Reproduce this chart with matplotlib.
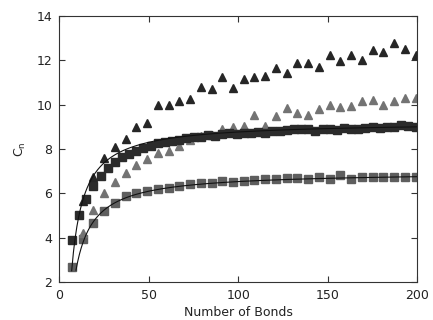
import matplotlib
matplotlib.use("Agg")
import matplotlib.pyplot as plt
import numpy as np

# dark triangles (x = 13..199 step 6)
tri_dark_x = list(range(13, 200, 6))
tri_dark_y = [5.65, 6.72, 7.58, 8.10, 8.44, 9.00, 9.16, 9.97, 10.00, 10.16,
              10.24, 10.78, 10.70, 11.23, 10.74, 11.14, 11.23, 11.29, 11.65,
              11.44, 11.86, 11.90, 11.71, 12.23, 11.98, 12.23, 12.01, 12.46,
              12.37, 12.79, 12.52, 12.23]

# gray triangles (x = 13..199 step 6)
tri_gray_x = list(range(13, 200, 6))
tri_gray_y = [4.20, 5.25, 6.00, 6.50, 6.90, 7.28, 7.53, 7.83, 7.93, 8.12,
              8.42, 8.60, 8.64, 8.89, 9.00, 9.04, 9.54, 9.04, 9.49, 9.87,
              9.61, 9.52, 9.79, 9.97, 9.91, 9.94, 10.16, 10.20, 9.98, 10.16,
              10.29, 10.29]

# dark squares (x = 7..199 step 4)
sq_dark_x = list(range(7, 200, 4))
sq_dark_y = [3.90, 5.00, 5.75, 6.33, 6.78, 7.13, 7.43, 7.62, 7.76, 7.91,
             8.06, 8.13, 8.26, 8.30, 8.36, 8.40, 8.48, 8.52, 8.55, 8.62,
             8.60, 8.68, 8.70, 8.66, 8.72, 8.70, 8.76, 8.74, 8.80, 8.82,
             8.86, 8.88, 8.92, 8.90, 8.82, 8.88, 8.92, 8.86, 8.94, 8.90,
             8.92, 8.96, 8.98, 8.96, 8.98, 9.00, 9.06, 9.04, 9.00]

# gray squares (x = 7..199 step 6)
sq_gray_x = list(range(7, 200, 6))
sq_gray_y = [2.69, 3.95, 4.68, 5.22, 5.58, 5.88, 6.00, 6.12, 6.20, 6.25,
             6.33, 6.40, 6.45, 6.45, 6.55, 6.50, 6.55, 6.60, 6.66, 6.66,
             6.70, 6.70, 6.66, 6.75, 6.66, 6.83, 6.63, 6.75, 6.75, 6.75,
             6.75, 6.75, 6.72]

# fitted curves: C = A - B / (n + c), drawn from n0
fit_dark = (9.23, 46.4, 0.0, 6.9)
fit_gray = (6.97, 44.4, 0.7, 9.3)

plt.rcParams['font.family'] = 'DejaVu Sans'
plt.rcParams['font.size'] = 9

fig = plt.figure(figsize=(4.33, 3.2), dpi=100)
ax = fig.add_axes([0.137, 0.119, 0.827, 0.831])

ax.plot(sq_gray_x, sq_gray_y, 's', color='#5e5e5e', ms=5.2, mec='#5e5e5e')
ax.plot(tri_gray_x, tri_gray_y, '^', color='#737373', ms=6, mec='#737373')
ax.plot(sq_dark_x, sq_dark_y, 's', color='#2b2b2b', ms=5.2, mec='#2b2b2b')
ax.plot(tri_dark_x, tri_dark_y, '^', color='#262626', ms=6, mec='#262626')

for a, b, c, n0 in (fit_dark, fit_gray):
    n = np.linspace(n0, 200, 400)
    ax.plot(n, a - b / (n + c), color='#111111', lw=0.8)

ax.set_xlim(0, 200)
ax.set_ylim(2, 14)
ax.set_xticks([0, 50, 100, 150, 200])
ax.set_yticks([2, 4, 6, 8, 10, 12, 14])
ax.tick_params(direction='in', top=True, right=True, length=4, width=0.8,
               colors='#333333', labelcolor='#222222', pad=5)
for s in ax.spines.values():
    s.set_color('#333333')
    s.set_linewidth(0.8)
ax.set_xlabel('Number of Bonds', color='#222222', labelpad=3)
ax.set_ylabel('C$_\\mathregular{n}$', color='#222222', labelpad=6)

fig.savefig('out.png', dpi=100)
